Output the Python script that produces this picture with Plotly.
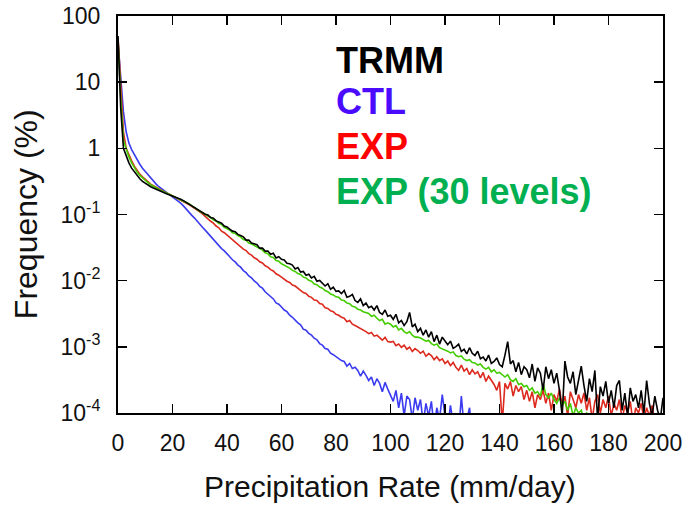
import plotly.graph_objects as go

# Precipitation rate bins (mm/day)
RATE = list(range(0, 201))

# Frequency (%) per 1 mm/day bin
TRMM = [
    50, 4.0, 1.0, 0.759, 0.603, 0.501, 0.437, 0.389, 0.347, 0.316, 0.295,
    0.275, 0.263, 0.251, 0.240, 0.229, 0.219, 0.211, 0.204, 0.197, 0.191,
    0.184, 0.178, 0.170, 0.162, 0.153, 0.145, 0.136, 0.129, 0.120, 0.112,
    0.108, 0.101, 0.098, 0.090, 0.088, 0.080, 0.077, 0.074, 0.067, 0.065,
    0.060, 0.056, 0.055, 0.050, 0.048, 0.046, 0.041, 0.041, 0.037, 0.036,
    0.035, 0.031, 0.031, 0.028, 0.028, 0.025, 0.026, 0.022, 0.023, 0.021,
    0.0205, 0.0183, 0.0180, 0.0172, 0.0150, 0.0158, 0.0135, 0.0138, 0.0121, 0.0125,
    0.0110, 0.0116, 0.0098, 0.0101, 0.0092, 0.0083, 0.0090, 0.0074, 0.0080, 0.0069,
    0.0070, 0.0064, 0.0071, 0.0056, 0.0058, 0.0062, 0.0050, 0.0047, 0.0053, 0.0042,
    0.0046, 0.0039, 0.0041, 0.0036, 0.0042, 0.0033, 0.0031, 0.0036, 0.0029, 0.0030,
    0.0026, 0.0031, 0.0023, 0.0025, 0.0021, 0.0024, 0.0033, 0.0020, 0.0022, 0.0017,
    0.0019, 0.0015, 0.0018, 0.0014, 0.0017, 0.0012, 0.0015, 0.0011, 0.0014, 0.0012,
    0.00108, 0.00122, 0.00095, 0.00101, 0.00110, 0.00085, 0.00092, 0.00078, 0.00097, 0.00080,
    0.00074, 0.00086, 0.00066, 0.00070, 0.00061, 0.00075, 0.00056, 0.00060, 0.00068, 0.00054,
    0.00050, 0.00075, 0.00120, 0.00055, 0.00062, 0.00042, 0.00058, 0.00038, 0.00050, 0.00045,
    0.00034, 0.00055, 0.00030, 0.00048, 0.00040, 0.00022, 0.00050, 0.00033, 0.00045, 0.00028,
    0.00040, 0.00022, 0.00009, 0.00061, 0.00035, 0.00028, 0.00042, 0.00019, 0.00030, 0.00051,
    0.00026, 0.00015, 0.00033, 0.00021, 0.00044, 0.00008, 0.00025, 0.00018, 0.00030, 0.00014,
    0.00022, 0.00012, 0.00026, 0.00031, 0.00011, 0.00020, 0.00009, 0.00024, 0.00015, 0.00019,
    0.00012, 0.00022, 0.00010, 0.00031, 0.00014, 0.00009, 0.00018, 0.00011, 0.00008, 0.00017,
]

CTL = [
    40, 10, 3.55, 1.78, 1.20, 0.955, 0.794, 0.676, 0.575, 0.501, 0.447,
    0.398, 0.355, 0.316, 0.288, 0.263, 0.245, 0.229, 0.214, 0.200, 0.188,
    0.176, 0.162, 0.148, 0.135, 0.120, 0.110, 0.098, 0.089, 0.079, 0.071,
    0.064, 0.058, 0.052, 0.0465, 0.0425, 0.0375, 0.0345, 0.0305, 0.0282, 0.0250,
    0.0230, 0.0207, 0.0192, 0.0172, 0.0160, 0.0142, 0.0132, 0.0118, 0.0110, 0.0099,
    0.0092, 0.0082, 0.0077, 0.0068, 0.0063, 0.0057, 0.0053, 0.0046, 0.0044, 0.0040,
    0.0036, 0.0034, 0.0030, 0.0028, 0.0025, 0.0023, 0.00215, 0.00185, 0.00178, 0.00160,
    0.00150, 0.00135, 0.00128, 0.00112, 0.00106, 0.00094, 0.00092, 0.00080, 0.00076, 0.00071,
    0.00066, 0.00062, 0.00060, 0.00051, 0.00056, 0.00047, 0.00049, 0.00044, 0.00036, 0.00043,
    0.00037, 0.00031, 0.00035, 0.00026, 0.00033, 0.00028, 0.00021, 0.00029, 0.00023, 0.00019,
    0.00015, 0.00022, 0.00012, 0.00020, 0.00009, 0.00018, 0.00016, 0.00008, 0.00017, 0.00011,
    0.00016, 0.00007, 0.00014, 0.00009, 0.00015, 0.00006, 0.00012, 0.00008, 0.00019, 0.00009,
    0.00006, 0.00013, 0.00007, 0.00010, 0.00005, 0.00018, 0.00006, 0.00008, 0.00012, 0.00005,
]

EXP = [
    48, 7.1, 1.78, 1.0, 0.794, 0.646, 0.537, 0.468, 0.407, 0.372, 0.339,
    0.313, 0.288, 0.272, 0.257, 0.243, 0.229, 0.219, 0.209, 0.200, 0.191,
    0.182, 0.174, 0.166, 0.158, 0.150, 0.141, 0.133, 0.126, 0.117, 0.110,
    0.102, 0.093, 0.087, 0.079, 0.074, 0.067, 0.063, 0.056, 0.053, 0.049,
    0.0450, 0.0408, 0.0385, 0.0352, 0.0330, 0.0300, 0.0285, 0.0256, 0.0243, 0.0222,
    0.0211, 0.0193, 0.0185, 0.0168, 0.0160, 0.0147, 0.0140, 0.0127, 0.0121, 0.0112,
    0.0106, 0.0098, 0.0094, 0.0086, 0.0083, 0.0076, 0.0072, 0.0066, 0.0064, 0.0058,
    0.0056, 0.0051, 0.0050, 0.0045, 0.0044, 0.0039, 0.0038, 0.0035, 0.0034, 0.0031,
    0.0030, 0.0028, 0.0027, 0.0024, 0.0025, 0.0022, 0.0021, 0.0020, 0.0019, 0.0018,
    0.00170, 0.00158, 0.00165, 0.00145, 0.00150, 0.00138, 0.00126, 0.00139, 0.00120, 0.00118,
    0.00121, 0.00104, 0.00110, 0.00098, 0.00106, 0.00092, 0.00099, 0.00085, 0.00094, 0.00088,
    0.00080, 0.00086, 0.00072, 0.00079, 0.00074, 0.00064, 0.00071, 0.00062, 0.00066, 0.00056,
    0.00061, 0.00052, 0.00058, 0.00049, 0.00044, 0.00053, 0.00043, 0.00047, 0.00038, 0.00045,
    0.00039, 0.00042, 0.00034, 0.00041, 0.00030, 0.00036, 0.00031, 0.00027, 0.00022, 0.00030,
    0.00007, 0.00028, 0.00023, 0.00030, 0.00018, 0.00026, 0.00021, 0.00025, 0.00016, 0.00022,
    0.00015, 0.00021, 0.00012, 0.00019, 0.00016, 0.00022, 0.00014, 0.00020, 0.00011, 0.00019,
    0.00015, 0.00023, 0.00013, 0.00018, 0.00009, 0.00021, 0.00016, 0.00012, 0.00019, 0.00014,
    0.00020, 0.00011, 0.00017, 0.00008, 0.00015, 0.00019, 0.00010, 0.00016, 0.00012, 0.00018,
    0.00009, 0.00014, 0.00011, 0.00016, 0.00008, 0.00013, 0.00010, 0.00015, 0.00007, 0.00012,
    0.00010, 0.00014, 0.00008, 0.00012, 0.00009, 0.00013, 0.00007, 0.00010,
]

EXP30 = [
    45, 5.6, 1.32, 0.955, 0.741, 0.603, 0.501, 0.437, 0.389, 0.355, 0.324,
    0.302, 0.282, 0.266, 0.251, 0.240, 0.229, 0.219, 0.209, 0.200, 0.191,
    0.184, 0.178, 0.170, 0.162, 0.153, 0.145, 0.136, 0.129, 0.120, 0.112,
    0.106, 0.101, 0.093, 0.090, 0.083, 0.080, 0.073, 0.071, 0.064, 0.061,
    0.058, 0.053, 0.052, 0.048, 0.046, 0.042, 0.041, 0.037, 0.036, 0.034,
    0.0322, 0.0298, 0.0290, 0.0264, 0.0256, 0.0230, 0.0224, 0.0202, 0.0196, 0.0180,
    0.0172, 0.0160, 0.0155, 0.0143, 0.0138, 0.0128, 0.0124, 0.0113, 0.0110, 0.0101,
    0.0098, 0.0089, 0.0087, 0.0080, 0.0077, 0.0071, 0.0068, 0.0063, 0.0061, 0.0057,
    0.0056, 0.0051, 0.0050, 0.0046, 0.0045, 0.0041, 0.0040, 0.0037, 0.0036, 0.0034,
    0.0033, 0.0032, 0.0029, 0.0030, 0.0027, 0.0025, 0.0026, 0.0022, 0.0023, 0.0022,
    0.0020, 0.0021, 0.0018, 0.0019, 0.0017, 0.0016, 0.0017, 0.0015, 0.0014, 0.0014,
    0.00136, 0.00130, 0.00122, 0.00125, 0.00112, 0.00106, 0.00110, 0.00097, 0.00094, 0.00090,
    0.00086, 0.00081, 0.00084, 0.00074, 0.00071, 0.00073, 0.00065, 0.00062, 0.00064, 0.00058,
    0.00057, 0.00053, 0.00055, 0.00049, 0.00046, 0.00049, 0.00042, 0.00045, 0.00040, 0.00041,
    0.00038, 0.00035, 0.00038, 0.00032, 0.00030, 0.00033, 0.00027, 0.00028, 0.00025, 0.00026,
    0.00022, 0.00024, 0.00020, 0.00021, 0.00018, 0.00028, 0.00019, 0.00017, 0.00020, 0.00016,
    0.00014, 0.00017, 0.00013, 0.00015, 0.00011, 0.00014, 0.00009, 0.00012, 0.00010, 0.00011,
    0.00008, 0.00010, 0.00009, 0.00007, 0.00006,
]

X_TICKS = [0, 20, 40, 60, 80, 100, 120, 140, 160, 180, 200]
Y_TICKS = [100, 10, 1, 0.1, 0.01, 0.001, 0.0001]
Y_TICK_TEXT = ["100", "10", "1", "10<sup>-1</sup>", "10<sup>-2</sup>",
               "10<sup>-3</sup>", "10<sup>-4</sup>"]

SERIES = [
    ("CTL", CTL, "#3b3bf0"),
    ("EXP", EXP, "#dd2a1e"),
    ("EXP (30 levels)", EXP30, "#44cc00"),
    ("TRMM", TRMM, "#000000"),
]

LEGEND = [("TRMM", "#000000"), ("CTL", "#4a0bff"), ("EXP", "#ff0000"),
          ("EXP (30 levels)", "#00b050")]

fig = go.Figure()
for name, vals, col in SERIES:
    fig.add_trace(go.Scatter(x=RATE[:len(vals)], y=vals, mode="lines", name=name,
                             line=dict(color=col, width=1.6), showlegend=False,
                             hoverinfo="skip"))

W, H = 685, 508
L, T = 118, 16
pw, ph = 545, 396.7
R = W - L - pw
B = H - T - ph

def px_x(p):
    return (p - L) / pw

def px_y(p):
    return 1 - (p - T) / ph

annos = []
legend_y = [60, 101, 146.5, 191.5]
for (txt, col), yy in zip(LEGEND, legend_y):
    annos.append(dict(text=txt, x=px_x(334), y=px_y(yy), xref="paper", yref="paper",
                      xanchor="left", yanchor="middle", showarrow=False,
                      font=dict(family="Liberation Sans, Arial", size=36, color=col,
                                weight="bold")))
annos.append(dict(text="Frequency (%)", x=px_x(26), y=px_y(214), xref="paper",
                  yref="paper", xanchor="center", yanchor="middle", showarrow=False,
                  textangle=-90,
                  font=dict(family="Liberation Sans, Arial", size=32, color="#111")))
annos.append(dict(text="Precipitation Rate (mm/day)", x=px_x(390), y=px_y(486),
                  xref="paper", yref="paper", xanchor="center", yanchor="middle",
                  showarrow=False,
                  font=dict(family="Liberation Sans, Arial", size=30, color="#111")))

axis_common = dict(showline=True, linecolor="black", linewidth=2, mirror="ticks",
                   ticks="inside", tickcolor="black", tickwidth=1.5, showgrid=False,
                   zeroline=False, automargin=False, ticklabeloverflow="allow",
                   tickfont=dict(family="Liberation Sans, Arial", size=23, color="#111"))

fig.update_layout(
    width=W, height=H,
    margin=dict(l=L, r=R, t=T, b=B, pad=0, autoexpand=False),
    paper_bgcolor="white", plot_bgcolor="white",
    annotations=annos,
    hovermode=False,
    xaxis=dict(range=[0, 200], tickvals=X_TICKS, ticklen=9, ticklabelstandoff=8,
               **axis_common),
    yaxis=dict(type="log", range=[-4, 2], tickvals=Y_TICKS, ticktext=Y_TICK_TEXT,
               ticklen=9, ticklabelstandoff=11, **axis_common),
)

fig.write_html(
    "out.html",
    config={"displayModeBar": False, "staticPlot": True},
    post_script="document.body.style.margin='0';document.body.style.overflow='hidden';",
)
